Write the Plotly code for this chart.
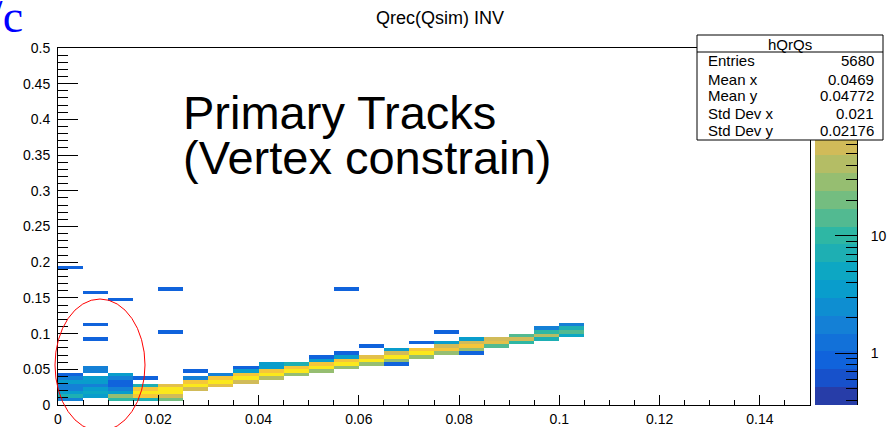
import numpy as np
import plotly.graph_objects as go

# ---------------------------------------------------------------------------
# hQrQs : reconstructed Q (y) versus simulated Q (x), primary tracks
# bin centres (GeV/c) and bin contents of every non-empty cell
# ---------------------------------------------------------------------------
qsim = (
    [0.0025] * 9 + [0.0075] * 11 + [0.0125] * 9 + [0.0175] * 6 + [0.0225] * 7
    + [0.0275] * 5 + [0.0325] * 4 + [0.0375] * 5 + [0.0425] * 5 + [0.0475] * 4
    + [0.0525] * 5 + [0.0575] * 6 + [0.0625] * 4 + [0.0675] * 5 + [0.0725] * 4
    + [0.0775] * 5 + [0.0825] * 5 + [0.0875] * 3 + [0.0925] * 3 + [0.0975] * 4
    + [0.1025] * 4
)
qrec = [
    0.1925, 0.0425, 0.0375, 0.0325, 0.0275, 0.0225, 0.0175, 0.0125, 0.0075,
    0.1575, 0.1125, 0.0925, 0.0525, 0.0475, 0.0375, 0.0325, 0.0275, 0.0225, 0.0175, 0.0125,
    0.1475, 0.0425, 0.0375, 0.0325, 0.0275, 0.0225, 0.0175, 0.0125, 0.0075,
    0.0375, 0.0275, 0.0225, 0.0175, 0.0125, 0.0075,
    0.1625, 0.1025, 0.0275, 0.0225, 0.0175, 0.0125, 0.0075,
    0.0475, 0.0375, 0.0325, 0.0275, 0.0225,
    0.0425, 0.0375, 0.0325, 0.0275,
    0.0525, 0.0475, 0.0425, 0.0375, 0.0325,
    0.0575, 0.0525, 0.0475, 0.0425, 0.0375,
    0.0575, 0.0525, 0.0475, 0.0425,
    0.0675, 0.0625, 0.0575, 0.0525, 0.0475,
    0.1625, 0.0725, 0.0675, 0.0625, 0.0575, 0.0525,
    0.0825, 0.0675, 0.0625, 0.0575,
    0.0775, 0.0725, 0.0675, 0.0625, 0.0575,
    0.0875, 0.0775, 0.0725, 0.0675,
    0.1025, 0.0875, 0.0825, 0.0775, 0.0725,
    0.0925, 0.0875, 0.0825, 0.0775, 0.0725,
    0.0925, 0.0875, 0.0825,
    0.0975, 0.0925, 0.0875,
    0.1075, 0.1025, 0.0975, 0.0925,
    0.1125, 0.1075, 0.1025, 0.0975,
]
entries = [
    1, 1, 2, 3, 2, 2, 4, 8, 2,
    1, 1, 1, 2, 2, 4, 4, 2, 4, 5, 4,
    1, 3, 2, 1, 1, 2, 4, 30, 10,
    1, 6, 120, 200, 110, 8,
    1, 1, 70, 220, 200, 60, 20,
    1, 2, 110, 250, 60,
    2, 120, 270, 70,
    1, 4, 120, 280, 60,
    4, 3, 110, 270, 40,
    6, 110, 260, 25,
    1, 3, 110, 260, 25,
    1, 1, 3, 100, 260, 25,
    1, 70, 230, 25,
    3, 60, 220, 25, 1,
    1, 120, 200, 25,
    1, 4, 55, 120, 25,
    3, 55, 110, 25, 1,
    50, 80, 15,
    15, 60, 10,
    2, 10, 40, 6,
    2, 8, 15, 5,
]

x_ticks = [0, 0.02, 0.04, 0.06, 0.08, 0.10, 0.12, 0.14]
x_tick_text = ["0", "0.02", "0.04", "0.06", "0.08", "0.1", "0.12", "0.14"]
y_ticks = [0, 0.05, 0.10, 0.15, 0.20, 0.25, 0.30, 0.35, 0.40, 0.45, 0.50]
y_tick_text = ["0", "0.05", "0.1", "0.15", "0.2", "0.25", "0.3", "0.35",
               "0.4", "0.45", "0.5"]
z_ticks = [1, 10]
z_tick_text = ["1", "10"]
z_minor = [0.4, 0.5, 0.6, 0.7, 0.8, 0.9, 2, 3, 4, 5, 6, 7, 8, 9,
           20, 30, 40, 50, 60, 70, 80, 90, 200, 300]

stats_names = ["Entries", "Mean x", "Mean y", "Std Dev x", "Std Dev y"]
stats_values = ["5680", "0.0469", "0.04772", "0.021", "0.02176"]

# binning and colour range of the COLZ drawing (log z)
X_MAX, Y_MAX, BIN = 0.15, 0.5, 0.005
LOG_ZMIN, LOG_ZMAX = -0.44, 2.60
NLEVELS = 20

# ---------------------------------------------------------------------------
# page geometry (pixels)
# ---------------------------------------------------------------------------
W, H = 893, 427
L, R_PAPER, T, B = 58, 857, 48, 405
FRAME_R = 810
BAR_L = 815
FONT = "Liberation Sans, Arial, sans-serif"


def px_x(X):
    return (X - L) / (R_PAPER - L)


def px_y(Y):
    return (B - Y) / (B - T)


# ROOT kBird palette, 255 colours, sampled the way THistPainter picks levels
stops = [0.0, 0.125, 0.25, 0.375, 0.5, 0.625, 0.75, 0.875, 1.0]
red = [0.2082, 0.0592, 0.0780, 0.0232, 0.1802, 0.5301, 0.8186, 0.9956, 0.9764]
green = [0.1664, 0.3599, 0.5041, 0.6419, 0.7178, 0.7492, 0.7328, 0.7862, 0.9832]
blue = [0.5293, 0.8684, 0.8385, 0.7914, 0.6425, 0.4662, 0.3499, 0.1968, 0.0539]


def bird(t):
    r = np.interp(t, stops, red)
    g = np.interp(t, stops, green)
    b = np.interp(t, stops, blue)
    return "rgb(%d,%d,%d)" % (round(r * 255), round(g * 255), round(b * 255))


level_colors = [bird(int((i + 0.99) * 255 / NLEVELS) / 254) for i in range(NLEVELS)]
colorscale = []
for i, c in enumerate(level_colors):
    colorscale.append([i / NLEVELS, c])
    colorscale.append([(i + 1) / NLEVELS, c])

# fill the 2D grid from the cell list
nx, ny = int(round(X_MAX / BIN)), int(round(Y_MAX / BIN))
grid = np.full((ny, nx), np.nan)
for xv, yv, n in zip(qsim, qrec, entries):
    grid[int(np.floor(yv / BIN)), int(np.floor(xv / BIN))] = np.log10(n)
x_edges = np.linspace(0, X_MAX, nx + 1)
y_edges = np.linspace(0, Y_MAX, ny + 1)

# palette bar: one cell per contour level
lev_edges = np.linspace(LOG_ZMIN, LOG_ZMAX, NLEVELS + 1)
lev_mid = 0.5 * (lev_edges[:-1] + lev_edges[1:])

fig = go.Figure()
fig.add_trace(go.Heatmap(
    x=x_edges, y=y_edges, z=grid, coloraxis="coloraxis",
    zsmooth=False, hoverongaps=False, xaxis="x", yaxis="y",
))
fig.add_trace(go.Heatmap(
    x=[0, 1], y=lev_edges, z=[[v] for v in lev_mid], coloraxis="coloraxis",
    zsmooth=False, xaxis="x2", yaxis="y2", hoverinfo="skip",
))

axis_common = dict(
    showgrid=False, zeroline=False, showline=True, linecolor="black",
    linewidth=1, ticks="inside", tickcolor="black", tickwidth=1,
    tickfont=dict(family=FONT, size=14, color="black"),
)

fig.update_layout(
    width=W, height=H,
    margin=dict(l=L, r=W - R_PAPER, t=T, b=H - B, autoexpand=False),
    paper_bgcolor="white", plot_bgcolor="white",
    showlegend=False,
    coloraxis=dict(colorscale=colorscale, cmin=LOG_ZMIN, cmax=LOG_ZMAX,
                   showscale=False),
    xaxis=dict(
        axis_common, domain=[0, px_x(FRAME_R)], range=[0, X_MAX], anchor="y",
        mirror=True, tickmode="array", tickvals=x_ticks, ticktext=x_tick_text,
        ticklen=10, ticklabelstandoff=1,
        minor=dict(dtick=BIN, tick0=0, ticks="inside", ticklen=5,
                   tickcolor="black", tickwidth=1),
    ),
    yaxis=dict(
        axis_common, domain=[0, 1], range=[0, Y_MAX], anchor="x",
        mirror=True, tickmode="array", tickvals=y_ticks, ticktext=y_tick_text,
        ticklen=20, ticklabelstandoff=4,
        minor=dict(dtick=0.01, tick0=0, ticks="inside", ticklen=10,
                   tickcolor="black", tickwidth=1),
    ),
    xaxis2=dict(domain=[px_x(BAR_L), 1], range=[0, 1], visible=False,
                anchor="y2"),
    yaxis2=dict(
        axis_common, domain=[0, 1], range=[LOG_ZMIN, LOG_ZMAX], anchor="x2",
        side="right", tickmode="array", tickvals=list(np.log10(z_ticks)),
        ticktext=z_tick_text, ticklen=22, ticklabelstandoff=10,
        minor=dict(tickmode="array", tickvals=list(np.log10(z_minor)),
                   ticks="inside", ticklen=11, tickcolor="black", tickwidth=1),
    ),
)

# statistics box and the hand-drawn ellipse
BOX_L, BOX_R, BOX_T, BOX_B = 697, 883, 35, 140
shapes = [
    dict(type="rect", xref="paper", yref="paper",
         x0=px_x(BOX_L), x1=px_x(BOX_R), y0=px_y(BOX_B), y1=px_y(BOX_T),
         fillcolor="white", line=dict(color="black", width=1), layer="above"),
    dict(type="line", xref="paper", yref="paper",
         x0=px_x(BOX_L), x1=px_x(BOX_R), y0=px_y(52), y1=px_y(52),
         line=dict(color="black", width=1), layer="above"),
    dict(type="circle", xref="paper", yref="paper",
         x0=px_x(55), x1=px_x(145), y0=px_y(431), y1=px_y(299),
         line=dict(color="red", width=1), layer="above"),
]
fig.update_layout(shapes=shapes)

ann = []
ann.append(dict(text="Qrec(Qsim) INV", x=px_x(440), y=px_y(18),
                xanchor="center", yanchor="middle",
                font=dict(family=FONT, size=18, color="black")))
ann.append(dict(text="Primary Tracks", x=px_x(181), y=px_y(141),
                xanchor="left", yanchor="bottom",
                font=dict(family=FONT, size=47, color="black")))
ann.append(dict(text="(Vertex constrain)", x=px_x(181), y=px_y(186),
                xanchor="left", yanchor="bottom",
                font=dict(family=FONT, size=47, color="black")))
ann.append(dict(text="GeV/c", x=px_x(25), y=px_y(44),
                xanchor="right", yanchor="bottom",
                font=dict(family="Liberation Serif, Times New Roman, serif",
                          size=46, color="rgb(0,0,255)")))
ann.append(dict(text="hQrQs", x=px_x((BOX_L + BOX_R) / 2), y=px_y(44),
                xanchor="center", yanchor="middle",
                font=dict(family=FONT, size=15, color="black")))
row_y = [61, 79, 96, 113, 130]
for name, val, yy in zip(stats_names, stats_values, row_y):
    ann.append(dict(text=name, x=px_x(706), y=px_y(yy), xanchor="left",
                    yanchor="middle",
                    font=dict(family=FONT, size=15, color="black")))
    ann.append(dict(text=val, x=px_x(876), y=px_y(yy), xanchor="right",
                    yanchor="middle",
                    font=dict(family=FONT, size=15, color="black")))
for a in ann:
    a.update(xref="paper", yref="paper", showarrow=False)
fig.update_layout(annotations=ann)

fig.write_html("out.html")
